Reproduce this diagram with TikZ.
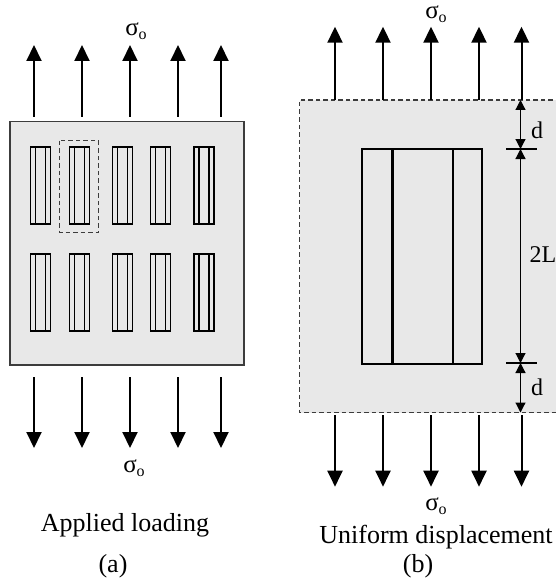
\documentclass[tikz,border=0pt]{standalone}
\usepackage{fontspec}
\setmainfont{Liberation Serif}
\usetikzlibrary{arrows.meta}
\definecolor{plate}{RGB}{232,232,232}
\definecolor{edge}{RGB}{60,60,60}
\tikzset{
  load/.style={line width=2pt, -{Triangle[length=16pt,width=15pt]}},
  dimline/.style={line width=1.2pt, {Triangle[length=10pt,width=10pt]}-{Triangle[length=10pt,width=10pt]}},
  crack/.style={draw=black, line width=1.1pt},
  cell/.style={draw=edge, line width=1.3pt, dash pattern=on 4.5pt off 3pt},
  slot/.style={draw=black, line width=2.4pt},
  caption/.style={inner sep=0pt, font=\fontsize{26}{26}\selectfont},
  sym/.style={inner sep=0pt, font=\fontsize{25}{25}\selectfont},
}
\newcommand\sigmao{σ\raisebox{-0.3ex}{\fontsize{16}{16}\selectfont o}}
\begin{document}
\begin{tikzpicture}[x=1pt,y=-1pt]
\useasboundingbox (0,0) rectangle (556,583);

% ---------- (a) applied loading ----------
\draw[draw=edge, fill=plate, line width=1.2pt] (10,121.5) rectangle (244,365);
\foreach \x in {30.5,69.5,112.5,150.5,194}{
  \foreach \yt/\yb in {147/224,254/331}{
    \draw[crack] (\x,\yt) rectangle ++(20,\yb-\yt);
    \draw[crack] (\x+5,\yt) -- (\x+5,\yb);
    \draw[crack] (\x+15,\yt) -- (\x+15,\yb);
  }
}
\draw[cell] (59.7,140.7) rectangle (98.3,232.3);

\foreach \i/\x in {1/34,2/82,3/130,4/178,5/221}{
  \coordinate (aU\i) at (\x,117);
  \coordinate (aUt\i) at (\x,45);
  \draw[load] (aU\i) -- (aUt\i);
  \coordinate (aD\i) at (\x,377);
  \coordinate (aDt\i) at (\x,448);
  \draw[load] (aD\i) -- (aDt\i);
}
\node[sym] (sigAtop) at (136,31) {\sigmao};
\node[sym] (sigAbot) at (134,468) {\sigmao};
\node[caption] (capA) at (125,525) {Applied loading};
\node[caption] (tagA) at (113,566) {(a)};

% ---------- (b) uniform displacement ----------
\fill[plate] (299.5,100) rectangle (560,412.5);
\draw[cell] (560,100) -- (299.5,100) -- (299.5,412.5) -- (560,412.5);
\draw[slot] (362,149) rectangle (482,364);
\draw[slot] (392.5,149) -- (392.5,364);
\draw[slot] (453,149) -- (453,364);

\foreach \i/\x in {1/335,2/383,3/431,4/479,5/521.5}{
  \coordinate (bU\i) at (\x,100);
  \coordinate (bUt\i) at (\x,26.7);
  \draw[load] (bU\i) -- (bUt\i);
  \coordinate (bD\i) at (\x,415);
  \coordinate (bDt\i) at (\x,486.7);
  \draw[load] (bD\i) -- (bDt\i);
}

% dimension chain d / 2L / d
\coordinate (dTop) at (520.5,100);
\coordinate (dUp) at (520.5,149);
\coordinate (dLow) at (520.5,363);
\coordinate (dBot) at (520.5,412.5);
\draw[line width=1.2pt] (506,149) -- (537,149);
\draw[line width=1.2pt] (506,363) -- (537,363);
\draw[dimline] (dTop) -- (dUp);
\draw[dimline] (dUp) -- (dLow);
\draw[dimline] (dLow) -- (dBot);
\node[sym, font=\fontsize{24}{24}\selectfont] (dA) at (537,130) {d};
\node[sym, font=\fontsize{24}{24}\selectfont] (twoL) at (543,255) {2L};
\node[sym, font=\fontsize{24}{24}\selectfont] (dB) at (537,387) {d};

\node[sym] (sigBtop) at (436,14) {\sigmao};
\node[sym] (sigBbot) at (436,506) {\sigmao};
\node[caption] (capB) at (436,537) {Uniform displacement};
\node[caption] (tagB) at (418,566) {(b)};
\end{tikzpicture}
\end{document}
